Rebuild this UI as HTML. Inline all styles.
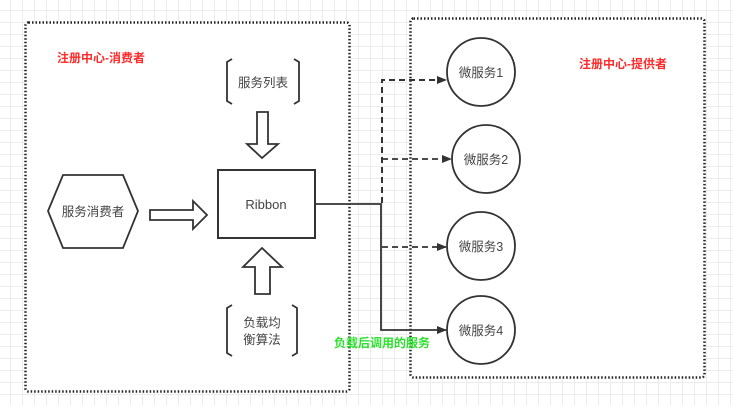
<!DOCTYPE html>
<html><head><meta charset="utf-8"><style>
body{margin:0;width:733px;height:405px;overflow:hidden;background:#fff;
background-image:linear-gradient(#ececec 1px,transparent 1px),linear-gradient(90deg,#ececec 1px,transparent 1px);background-size:12px 12px;background-position:-2px -2px;}
svg{position:absolute;left:0;top:0}
text{font-family:"Liberation Sans","Noto Sans CJK SC",sans-serif;}
</style></head><body>
<svg width="733" height="405" viewBox="0 0 733 405">
<defs><marker id="a" markerWidth="10" markerHeight="8" refX="9" refY="4" orient="auto" markerUnits="userSpaceOnUse"><path d="M0,0 L10,4 L0,8 Z" fill="#333"/></marker></defs>
<rect x="25.5" y="22.5" width="324" height="369" fill="#fff" stroke="#222" stroke-width="2.5" stroke-dasharray="1.5,2" rx="3"/>
<rect x="410.5" y="18.5" width="294" height="359" fill="#fff" stroke="#222" stroke-width="2.5" stroke-dasharray="1.5,2" rx="3"/>
<text x="57" y="62" font-size="12" font-weight="bold" fill="#ff2a2a">注册中心-消费者</text>
<text x="579" y="68" font-size="12" font-weight="bold" fill="#ff2a2a">注册中心-提供者</text>
<path d="M232,59 L227,62 L227,101 L232,104 M294,59 L299,62 L299,101 L294,104" fill="none" stroke="#333" stroke-width="1.8"/>
<text x="263" y="87" font-size="12.5" fill="#444" text-anchor="middle">服务列表</text>
<path d="M232,305 L227,308 L227,353 L232,356 M292,305 L297,308 L297,353 L292,356" fill="none" stroke="#333" stroke-width="1.8"/>
<text x="262" y="327" font-size="12.5" fill="#444" text-anchor="middle">负载均</text>
<text x="262" y="344" font-size="12.5" fill="#444" text-anchor="middle">衡算法</text>
<polygon points="63,175 123,175 138,211 123,248 63,248 48,211" fill="#fff" stroke="#333" stroke-width="1.8"/>
<text x="93" y="216" font-size="12.5" fill="#444" text-anchor="middle">服务消费者</text>
<rect x="218" y="170" width="97" height="68" fill="#fff" stroke="#333" stroke-width="2"/>
<text x="266" y="209" font-size="13" fill="#444" text-anchor="middle">Ribbon</text>
<polygon points="257,112 268,112 268,144 278,144 262,158 247,144 257,144" fill="#fff" stroke="#333" stroke-width="1.8"/>
<polygon points="150,210 193,210 193,201 207,215 193,229 193,220 150,220" fill="#fff" stroke="#333" stroke-width="1.8"/>
<polygon points="259,294 266,294 266,267 278,267 258,248 239,267 251,267 251,294" fill="#fff" stroke="#333" stroke-width="1.8" transform="translate(4,0)"/>
<path d="M315,204 L381,204 L381,330 L446,330" fill="none" stroke="#333" stroke-width="1.8" marker-end="url(#a)"/>
<path d="M382,203 L382,80 L446,80" fill="none" stroke="#333" stroke-width="2" stroke-dasharray="6,4" marker-end="url(#a)"/>
<path d="M382,159 L451,159" fill="none" stroke="#333" stroke-width="1.8" stroke-dasharray="6,4" marker-end="url(#a)"/>
<path d="M382,247 L446,247" fill="none" stroke="#333" stroke-width="1.8" stroke-dasharray="6,4" marker-end="url(#a)"/>
<g fill="#fff" stroke="#333" stroke-width="1.8">
<circle cx="481" cy="72" r="34"/><circle cx="486" cy="159" r="34"/><circle cx="481" cy="246" r="34"/><circle cx="481" cy="330" r="34"/></g>
<g font-size="12.5" fill="#444" text-anchor="middle">
<text x="481" y="77">微服务1</text><text x="486" y="164">微服务2</text><text x="481" y="251">微服务3</text><text x="481" y="335">微服务4</text></g>
<text x="334" y="347" font-size="12" font-weight="bold" fill="#2de02d">负载后调用的服务</text>
</svg>
</body></html>
